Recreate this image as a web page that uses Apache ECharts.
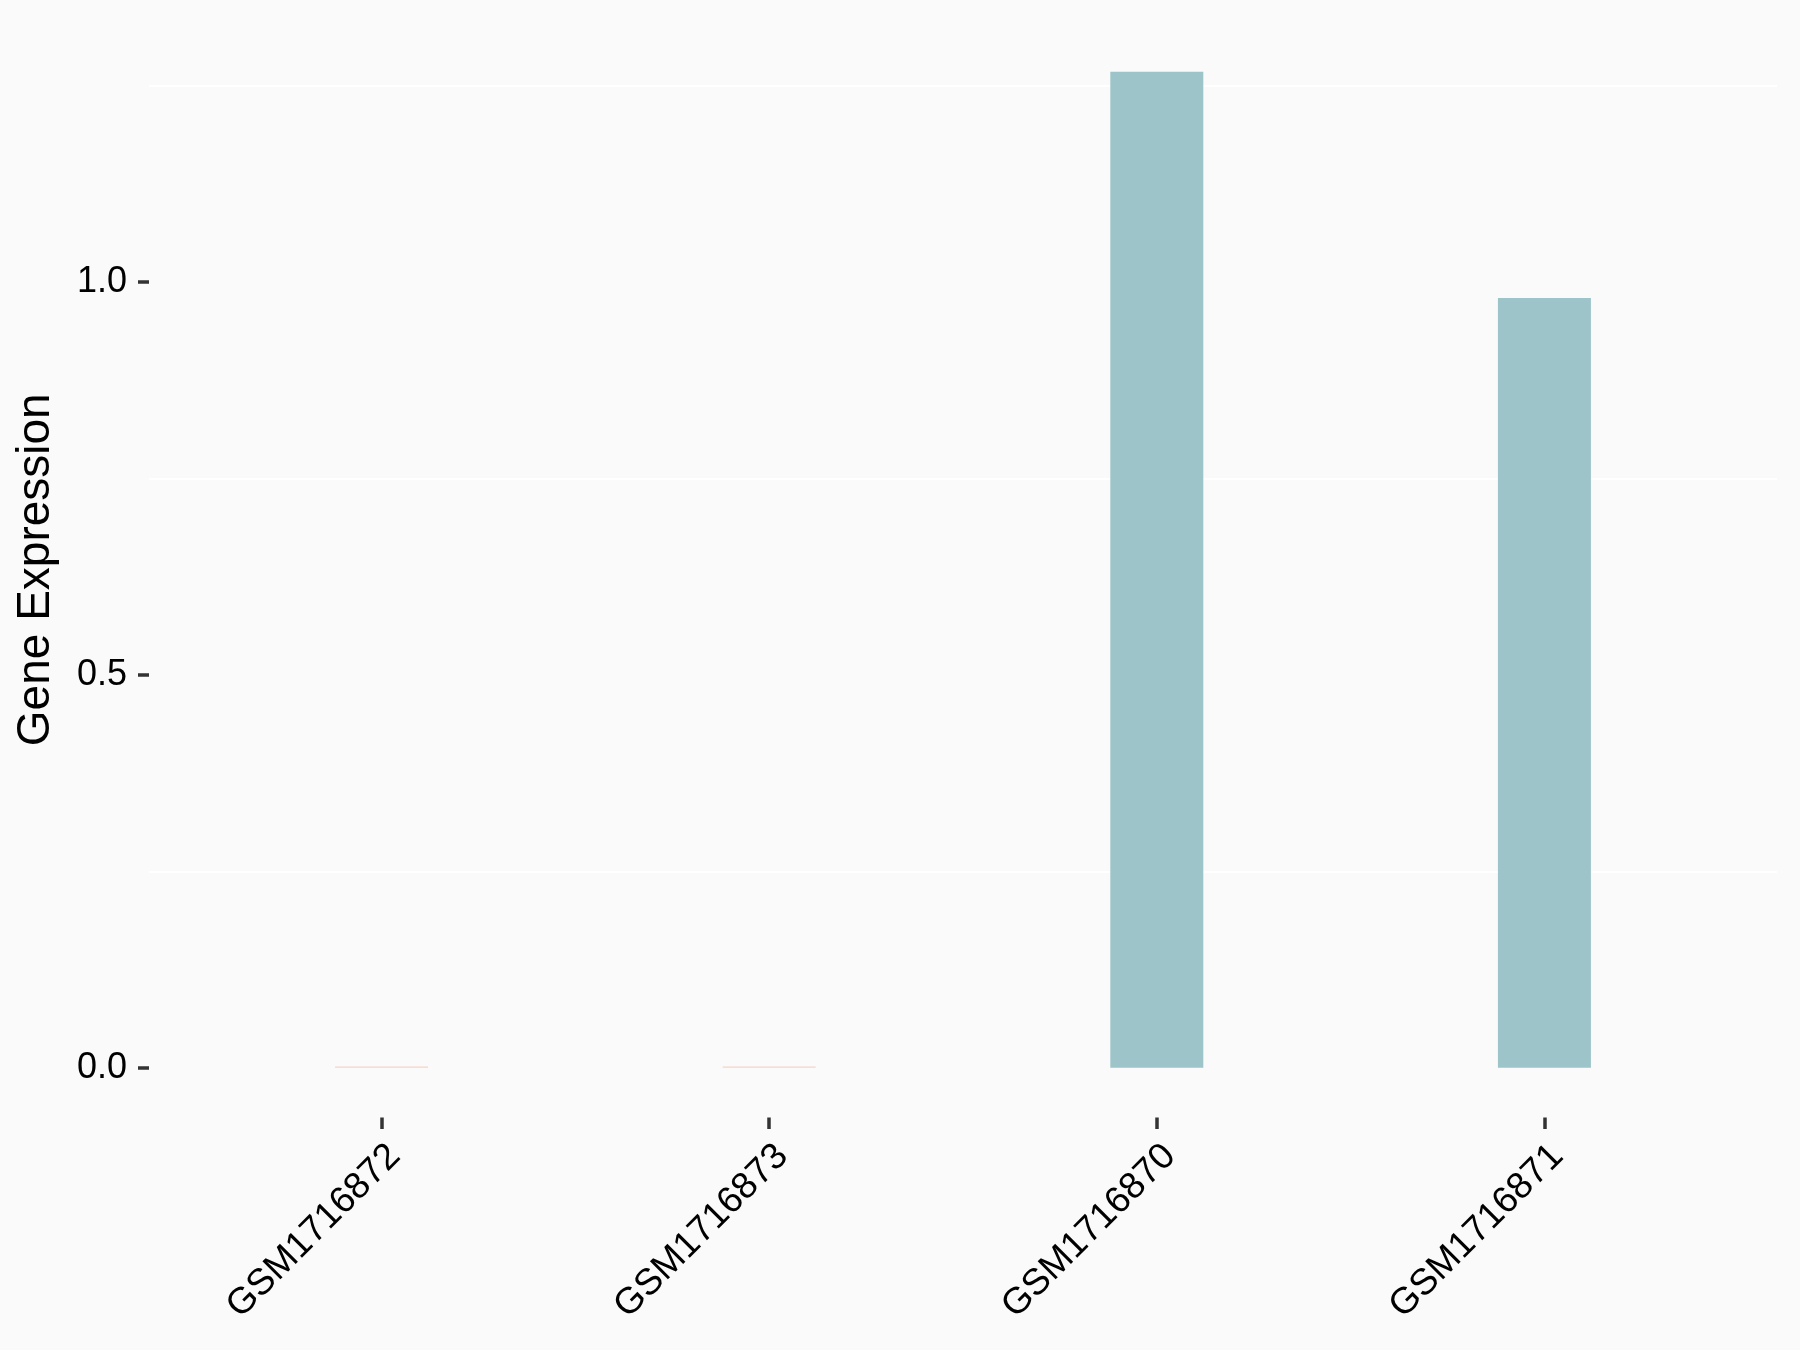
<!DOCTYPE html>
<html>
<head>
<meta charset="utf-8">
<script src="https://cdn.jsdelivr.net/npm/echarts@6/dist/echarts.min.js"></script>
<style>
html,body{margin:0;padding:0;background:#FAFAFA;}
#chart{width:1800px;height:1350px;}
</style>
</head>
<body>
<div id="chart"></div>
<script>
// Data
const samples = ['GSM1716872', 'GSM1716873', 'GSM1716870', 'GSM1716871'];
const expression = [0.0015, 0.0015, 1.268, 0.980];
const groups = ['low', 'low', 'high', 'high'];
const yTicks = [0, 0.5, 1.0];
const minorGrid = [0.25, 0.75, 1.25];

const groupColors = { low: '#F8D2C6', high: '#9DC4C8' };
const positions = samples.map((s, i) => i + 1);

const chart = echarts.init(document.getElementById('chart'), null, { renderer: 'canvas' });
const font = 'Liberation Sans, Arial, sans-serif';

chart.setOption({
  backgroundColor: '#FAFAFA',
  animation: false,
  grid: { left: 149, right: 23, top: 22, bottom: 232.5, containLabel: false },
  xAxis: {
    type: 'value',
    min: 0.4,
    max: 4.6,
    axisLine: { show: false, onZero: false },
    splitLine: { show: false },
    axisTick: {
      show: true,
      customValues: positions,
      length: 11.5,
      lineStyle: { color: '#333333', width: 3.5 }
    },
    axisLabel: {
      customValues: positions,
      rotate: 45,
      align: 'right',
      verticalAlign: 'top',
      margin: 20,
      fontSize: 37,
      fontFamily: font,
      color: '#000000',
      formatter: v => samples[Math.round(v) - 1]
    }
  },
  yAxis: {
    type: 'value',
    min: -0.0634,
    max: 1.3312,
    name: 'Gene Expression',
    nameLocation: 'middle',
    nameRotate: 90,
    nameGap: 90,
    nameTextStyle: { fontSize: 46, fontFamily: font, color: '#000000' },
    axisLine: { show: false, onZero: false },
    splitLine: { show: false },
    axisTick: {
      show: true,
      customValues: yTicks,
      length: 11,
      lineStyle: { color: '#333333', width: 3.5 }
    },
    axisLabel: {
      customValues: yTicks,
      margin: 22,
      fontSize: 36,
      fontFamily: font,
      color: '#000000',
      formatter: v => v.toFixed(1)
    }
  },
  series: [{
    type: 'bar',
    barWidth: 93,
    data: expression.map((v, i) => ({
      value: [positions[i], v],
      itemStyle: { color: groupColors[groups[i]] }
    })),
    markLine: {
      silent: true,
      symbol: ['none', 'none'],
      label: { show: false },
      lineStyle: { color: '#FFFFFF', width: 2, type: 'solid' },
      z: 0,
      data: minorGrid.map(v => ({ yAxis: v }))
    },
    z: 2
  }]
});
</script>
</body>
</html>
